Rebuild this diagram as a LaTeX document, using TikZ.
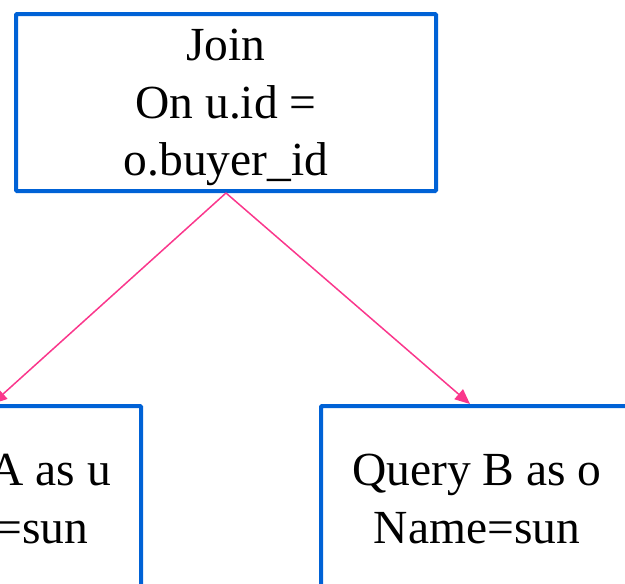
\documentclass[tikz,border=0pt]{standalone}
\usepackage{fontspec}
\setmainfont{Liberation Serif}
\usetikzlibrary{arrows.meta}
\definecolor{boxblue}{RGB}{0,98,214}
\definecolor{linkpink}{RGB}{250,55,140}
\begin{document}
\begin{tikzpicture}[x=1pt,y=-1pt,
  opbox/.style={draw=boxblue, line width=4pt, rounded corners=1pt, align=center,
    font=\fontsize{47.5}{57.5}\selectfont, inner sep=0pt},
  link/.style={draw=linkpink, line width=1.5pt, -{Triangle[length=15pt,width=13pt]}}]
\useasboundingbox (0,0) rectangle (625,584);
\clip (0,0) rectangle (625,584);
% operator boxes
\node[opbox, minimum width=420pt, minimum height=177pt] (join) at (226,102.5)
  {\rule{0pt}{42pt}Join\\On u.id =\\o.buyer\_id};
\node[opbox, minimum width=312pt, minimum height=186pt] (qa) at (-15,499)
  {Query A as u\\Name=sun};
\node[opbox, minimum width=312pt, minimum height=186pt] (qb) at (477,499)
  {Query B as o\\Name=sun};
% edges from the join to its inputs
\draw[link] (join.south) -- ([xshift=7pt]qa.north);
\draw[link] (join.south) -- ([xshift=-7pt]qb.north);
\end{tikzpicture}
\end{document}
